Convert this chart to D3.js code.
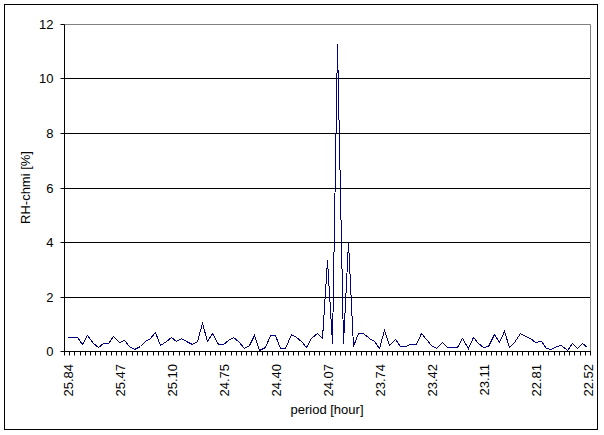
<!DOCTYPE html>
<html>
<head>
<meta charset="utf-8">
<script src="https://cdn.jsdelivr.net/npm/d3@7"></script>
<style>
  html, body { margin: 0; padding: 0; background: #fff; }
  svg { display: block; }
  text { font-family: "Liberation Sans", Arial, sans-serif; fill: #000; }
</style>
</head>
<body>
<svg id="chart" width="604" height="435"></svg>
<script>
// ---- data ----
const categories = d3.range(101); // 101 period bins, labelled every 10th
const tickLabels = ["25.84","25.47","25.10","24.75","24.40","24.07","23.74","23.42","23.11","22.81","22.52"];
const rhValues = [
  0.51, 0.51, 0.51, 0.27, 0.59, 0.30, 0.14, 0.30, 0.30, 0.55,
  0.32, 0.42, 0.19, 0.06, 0.19, 0.38, 0.46, 0.70, 0.22, 0.37,
  0.51, 0.35, 0.47, 0.37, 0.26, 0.35, 1.02, 0.38, 0.66, 0.26,
  0.26, 0.41, 0.51, 0.35, 0.12, 0.21, 0.60, 0.03, 0.14, 0.60,
  0.60, 0.10, 0.10, 0.64, 0.50, 0.37, 0.14, 0.46, 0.65, 0.47,
  3.35, 0.28, 11.25, 0.28, 4.00, 0.20, 0.65, 0.65, 0.46, 0.38,
  0.10, 0.77, 0.22, 0.43, 0.17, 0.17, 0.26, 0.26, 0.65, 0.43,
  0.22, 0.12, 0.34, 0.13, 0.16, 0.16, 0.47, 0.10, 0.50, 0.31,
  0.16, 0.18, 0.63, 0.34, 0.75, 0.16, 0.34, 0.65, 0.56, 0.47,
  0.34, 0.38, 0.11, 0.06, 0.18, 0.22, 0.04, 0.28, 0.10, 0.31,
  0.13
];
const yTicks = [0, 2, 4, 6, 8, 10, 12];
const yTitle = "RH-chmi [%]";
const xTitle = "period [hour]";

// ---- layout ----
const svg = d3.select("#chart");
const L = 64, R = 590, T = 24, B = 351;

// outer chart border
svg.append("rect")
  .attr("x", 4.5).attr("y", 4.5).attr("width", 593).attr("height", 425)
  .attr("fill", "#fff").attr("stroke", "#000").attr("stroke-width", 1);

const x = d3.scaleBand().domain(categories).range([L, R]).paddingInner(0).paddingOuter(0);
const xb = d3.scaleLinear().domain([0, categories.length]).range([L, R]);
const y = d3.scaleLinear().domain([0, 12]).range([B, T]);
const py = v => Math.round(y(v)) + 0.5;

// gridlines
svg.append("g").selectAll("line")
  .data(yTicks.filter(v => v > 0 && v < 12))
  .join("line")
  .attr("x1", L).attr("x2", R)
  .attr("y1", py).attr("y2", py)
  .attr("stroke", "#000").attr("stroke-width", 1);

// plot area border (top / right gray)
svg.append("path")
  .attr("d", `M${L + 0.5},${T + 0.5}H${R + 0.5}V${B + 0.5}`)
  .attr("fill", "none").attr("stroke", "#808080").attr("stroke-width", 1);

// y axis
const yAxis = svg.append("g")
  .attr("transform", `translate(${L + 0.5},0)`)
  .call(d3.axisLeft(y).tickValues(yTicks).tickSize(4).tickPadding(7).tickFormat(d3.format("d")));
yAxis.select(".domain").attr("d", `M0,${T + 0.5}V${B + 0.5}`).attr("stroke", "#000");
yAxis.selectAll(".tick").attr("transform", d => `translate(0,${py(d)})`);
yAxis.selectAll(".tick line").attr("stroke", "#000");
yAxis.selectAll(".tick text").style("font-size", "13px").style("font-family", "'Liberation Sans', Arial, sans-serif");

// x axis tick marks at category boundaries
const xTickAxis = svg.append("g")
  .attr("transform", `translate(0,${B + 0.5})`)
  .call(d3.axisBottom(xb).tickValues(d3.range(categories.length + 1)).tickSize(4).tickFormat(""));
xTickAxis.select(".domain").attr("d", `M${L},0H${R + 1}`).attr("stroke", "#000");
xTickAxis.selectAll(".tick").attr("transform", d => `translate(${Math.round(xb(d)) + 0.5},0)`);
xTickAxis.selectAll(".tick line").attr("stroke", "#000");

// x axis labels (every 10th category)
const labelCats = categories.filter(c => c % 10 === 0);
const xLabAxis = svg.append("g")
  .attr("transform", `translate(0,${B})`)
  .call(d3.axisBottom(x).tickValues(labelCats).tickSize(0)
    .tickFormat(c => tickLabels[c / 10]));
xLabAxis.select(".domain").remove();
xLabAxis.selectAll(".tick text")
  .attr("transform", "rotate(-90)")
  .attr("x", -13).attr("y", 1.5).attr("dy", "0.35em")
  .style("text-anchor", "end")
  .style("font-size", "13px")
  .style("font-family", "'Liberation Sans', Arial, sans-serif");

// data line
const line = d3.line()
  .x((d, i) => Math.round(x(categories[i]) + x.bandwidth() / 2) + 0.5)
  .y(d => Math.round(y(d)) + 0.5);
svg.append("path")
  .datum(rhValues)
  .attr("d", line)
  .attr("fill", "none")
  .attr("stroke", "#000080")
  .attr("stroke-width", 1)
  .attr("stroke-linejoin", "miter")
  .style("shape-rendering", "crispEdges");

// titles
svg.append("text")
  .attr("transform", `translate(25,${(T + B) / 2}) rotate(-90)`)
  .attr("text-anchor", "middle").attr("dy", "0.35em")
  .style("font-size", "13px")
  .text(yTitle);
svg.append("text")
  .attr("x", (L + R) / 2).attr("y", 414)
  .attr("text-anchor", "middle")
  .style("font-size", "13px")
  .text(xTitle);
</script>
</body>
</html>
